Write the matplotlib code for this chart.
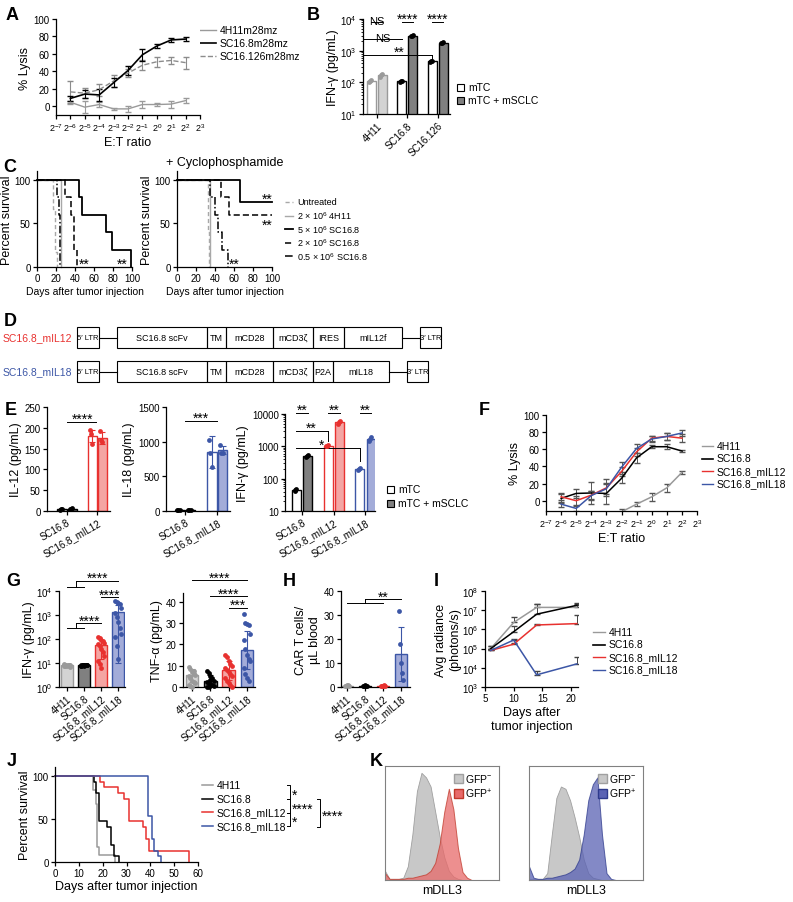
import matplotlib
matplotlib.use("Agg")
import matplotlib.pyplot as plt
from matplotlib.patches import Rectangle
from matplotlib.ticker import NullFormatter

W, H = 793, 903

plt.rcParams["font.family"] = ["Liberation Sans", "DejaVu Sans"]
plt.rcParams["mathtext.fontset"] = "custom"
plt.rcParams["mathtext.rm"] = "Liberation Sans"
plt.rcParams["mathtext.it"] = "Liberation Sans:italic"
plt.rcParams["mathtext.bf"] = "Liberation Sans:bold"
plt.rcParams["font.size"] = 7
plt.rcParams["axes.linewidth"] = 0.9

GREY = "#9a9a9a"
RED = "#e8312f"
RED_FILL = "#f4a5a3"
BLUE = "#3c56a6"
BLUE_FILL = "#a3acd9"

# ---- A: in vitro lysis, log2 E:T ratio ----
A_EXP = [-6, -5, -4, -3, -2, -1, 0, 1, 2]
A_4H11 = [4.6, -1, 2, -3, -3, 2, 2, 2.5, 6.5]
A_4H11_SD = [2, 7, 3, 1, 3, 4, 2, 4, 3]
A_SC168 = [9, 14, 13, 27, 41, 59, 69, 76, 77]
A_SC168_SD = [3, 5, 7, 5, 5, 7, 2, 2, 2]
A_SC16126 = [16.5, 15, 19, 29, 38, 47, 51, 52.5, 50]
A_SC16126_SD = [13, 6, 7, 7, 5, 6, 6, 4, 7]

# ---- B: IFN-g ----
B_GROUPS = ["4H11", "SC16.8", "SC16.126"]
B_MTC = [112, 108, 460]
B_MSCLC = [165, 3000, 1800]
B_MTC_PTS = [[105, 112, 118], [104, 108, 112], [440, 460, 480]]
B_MSCLC_PTS = [[150, 165, 178], [2850, 3000, 3150], [1700, 1800, 1900]]

# ---- C: survival ----
C_LABELS = ["Untreated", "2 × 10$^6$ 4H11", "5 × 10$^6$ SC16.8",
            "2 × 10$^6$ SC16.8", "0.5 × 10$^6$ SC16.8"]
C1_DAYS = [[0, 17, 19, 21], [0, 25], [0, 44, 47, 73, 79, 99],
           [0, 29, 36, 39, 42], [0, 21, 23, 24]]
C1_SURV = [[100, 67, 17, 0], [100, 0], [100, 80, 60, 40, 20, 0],
           [100, 80, 60, 20, 0], [100, 80, 60, 0]]
C2_DAYS = [[0, 33, 34], [0, 34.5], [0, 66, 100], [0, 46, 55, 100],
           [0, 35, 40, 43, 47, 54]]
C2_SURV = [[100, 40, 0], [100, 0], [100, 75, 75], [100, 80, 60, 60],
           [100, 80, 60, 40, 20, 0]]

# ---- D: constructs ----
D_NAMES = ["SC16.8_mIL12", "SC16.8_mIL18"]
D_SEGMENTS = [["SC16.8 scFv", "TM", "mCD28", "mCD3ζ", "IRES", "mIL12f"],
              ["SC16.8 scFv", "TM", "mCD28", "mCD3ζ", "P2A", "mIL18"]]
D_LENGTHS = [[90, 19, 47, 40, 31, 58], [90, 19, 47, 40, 20, 56]]

# ---- E: cytokines ----
E12_GROUPS = ["SC16.8", "SC16.8_mIL12"]
E12_MTC = [5, 180]
E12_MTC_SD = [1, 15]
E12_MTC_PTS = [[3, 5, 6], [195, 185, 160]]
E12_MSCLC = [5, 175]
E12_MSCLC_SD = [1, 15]
E12_MSCLC_PTS = [[4, 6, 7], [192, 170, 165]]

E18_GROUPS = ["SC16.8", "SC16.8_mIL18"]
E18_MTC = [12, 850]
E18_MTC_SD = [2, 230]
E18_MTC_PTS = [[10, 12, 14], [1020, 830, 640]]
E18_MSCLC = [12, 875]
E18_MSCLC_SD = [2, 60]
E18_MSCLC_PTS = [[10, 12, 14], [950, 840, 840]]

EIFN_GROUPS = ["SC16.8", "SC16.8_mIL12", "SC16.8_mIL18"]
EIFN_MTC = [45, 1050, 200]
EIFN_MTC_PTS = [[42, 45, 48], [1000, 1050, 1100], [185, 200, 215]]
EIFN_MSCLC = [500, 5500, 1700]
EIFN_MSCLC_PTS = [[470, 500, 530], [5000, 5500, 6000], [1500, 1700, 1900]]

# ---- F: lysis with armored CARs ----
F_EXP = [-6, -5, -4, -3, -2, -1, 0, 1, 2]
F_4H11 = [-40, -38, -35, -28, -13, -4, 4.5, 15, 33]
F_4H11_SD = [3, 3, 3, 3, 3, 2, 5, 5, 2]
F_SC168 = [2.7, 8.5, 9, 8.5, 26, 50, 63, 63, 58]
F_SC168_SD = [5, 5, 13, 12, 5, 6, 2, 3, 1]
F_MIL12 = [4.6, 0, 6.5, 15, 34, 57, 73, 75, 73]
F_MIL12_SD = [4, 5, 5, 10, 5, 5, 3, 4, 5]
F_MIL18 = [-4, -9, 6, 14, 39, 61, 72, 75, 79]
F_MIL18_SD = [3, 3, 5, 6, 6, 5, 3, 4, 3]

# ---- G / H: serum cytokines and CAR T counts ----
G_GROUPS = ["4H11", "SC16.8", "SC16.8_mIL12", "SC16.8_mIL18"]
G_IFN_MEAN = [8, 8, 55, 1300]
G_IFN_SD = [0.5, 0.4, 40, 1290]
G_IFN_PTS = [[8, 7.5, 8.5, 8, 7, 9, 8, 7.8, 8.2, 8.6, 7.4, 8],
             [8, 8.3, 7.7, 8, 8.5, 7.5, 8.1, 7.9, 8.2, 8, 7.6, 8.4],
             [120, 110, 95, 85, 70, 60, 50, 40, 30, 20, 12, 9, 6],
             [4000, 3500, 3200, 2800, 2000, 1200, 800, 500, 300, 160, 120, 50, 15]]
G_TNF_MEAN = [5.5, 3, 7.8, 17.3]
G_TNF_SD = [3, 2.5, 4.5, 9]
G_TNF_PTS = [[9.5, 8.5, 7, 6, 5.5, 5, 4, 3, 2.5, 2, 1, 0.5, 0, 7.5],
             [7.5, 6.5, 5, 4, 3, 2.5, 2, 1.5, 1, 0.5, 0, 0, 3.5],
             [15, 14, 12, 11, 10, 9, 8, 7, 6, 5, 4, 3, 2, 1, 0],
             [34, 30, 29.5, 29, 25, 22, 18, 15, 13, 12, 9, 6, 4, 3]]
H_MEAN = [0.6, 0.5, 0.5, 13.7]
H_SD = [0.3, 0.1, 0.1, 11.3]
H_PTS = [[0.3, 0.5, 0.8, 1.0, 0.6], [0.4, 0.5, 0.7, 0.6, 0.5],
         [0.5, 0.6, 0.4, 0.7, 0.5], [31.5, 18, 10, 6, 3]]

# ---- I: bioluminescence ----
I_DAYS = [6, 10, 14, 21]
I_4H11 = [1.0e5, 2.3e6, 1.4e7, 1.4e7]
I_4H11_UP = [1.4e5, 4.3e6, 2.0e7, 2.2e7]
I_SC168 = [1.0e5, 7.6e5, 6.2e6, 1.8e7]
I_SC168_UP = [1.4e5, 1.5e6, 2.2e7, 2.5e7]
I_MIL12 = [8.0e4, 1.7e5, 1.7e6, 2.0e6]
I_MIL12_UP = [9.0e4, 2.0e5, 2.0e6, 5.5e6]
I_MIL18 = [8.0e4, 2.8e5, 4.3e3, 1.6e4]
I_MIL18_UP = [9.0e4, 3.0e5, 7.0e3, 3.5e4]

# ---- J: survival ----
J_DAYS = [[0, 16, 17, 17.8, 18.5, 25],
          [0, 16.5, 17.4, 18.4, 22, 23.7, 24.8, 27],
          [0, 18.8, 20.5, 26.5, 29, 31, 37, 38, 39.3, 56.2],
          [0, 39, 40.9, 41.6, 43.2, 44.6]]
J_SURV = [[100, 83, 67, 17, 8, 0],
          [100, 93, 80, 47, 40, 20, 7, 0],
          [100, 93, 87, 80, 73, 47, 40, 27, 13, 0],
          [100, 53, 27, 13, 7, 0]]

# ---- K: flow histograms (% of mode, sampled across the axis) ----
K_BINS = list(range(0, 101, 4))
K_GREY_1 = [8, 1, 1, 1, 2, 12, 40, 78, 94, 90, 82, 60, 38, 20, 8, 3, 1,
            0, 0, 0, 0, 0, 0, 0, 0, 0]
K_RED = [6, 1, 1, 1, 1, 2, 2, 3, 4, 5, 8, 15, 32, 60, 80, 62, 28, 7, 2,
         0, 0, 0, 0, 0, 0, 0]
K_GREY_2 = [1, 1, 1, 1, 6, 40, 72, 82, 80, 70, 55, 38, 18, 6, 2, 1, 0,
            0, 0, 0, 0, 0, 0, 0, 0, 0]
K_BLUE = [12, 2, 1, 1, 2, 2, 3, 4, 5, 7, 10, 18, 40, 70, 84, 90, 40, 6,
          1, 0, 0, 0, 0, 0, 0, 0]

TICK = 7
LABEL = 9
STAR = 10
LEG = 7.5


def ax_at(fig, left, top, right, bottom):
    return fig.add_axes([left / W, 1 - bottom / H, (right - left) / W,
                         (bottom - top) / H])


def prism(ax, size=TICK):
    ax.spines["top"].set_visible(False)
    ax.spines["right"].set_visible(False)
    ax.tick_params(length=3, width=0.9, pad=1.5, labelsize=size)
    ax.tick_params(which="minor", length=1.8, width=0.6)


def star(ax, x, y, text, size=STAR):
    ax.annotate(text, (x, y), xytext=(0, -3), textcoords="offset points",
                ha="center", va="bottom", fontsize=size, annotation_clip=False)


def hline(ax, x1, x2, y, lw=0.7):
    ax.plot([x1, x2], [y, y], color="k", lw=lw, clip_on=False)


def line_legend(ov, x, y, dy, labels, styles, size=LEG, length=12):
    for i, (lab, st) in enumerate(zip(labels, styles)):
        yy = y + i * dy
        ov.plot([x, x + length], [yy, yy], **st)
        ov.text(x + length + 4, yy, lab, va="center", fontsize=size)


def box_legend(ov, x, y, dy, labels, faces, size=LEG):
    for i, (lab, fc) in enumerate(zip(labels, faces)):
        yy = y + i * dy
        ov.add_patch(Rectangle((x, yy - 3.5), 7, 7, facecolor=fc,
                               edgecolor="k", lw=0.8))
        ov.text(x + 11, yy, lab, va="center", fontsize=size)


def per_bar(v, n):
    return v if isinstance(v, list) else [v] * n


def bars(ax, xs, heights, yerr, pts, face, edge, dot, width=0.3, spread=0.08):
    n = len(xs)
    faces, edges, dots = per_bar(face, n), per_bar(edge, n), per_bar(dot, n)
    for i in range(n):
        ax.bar(xs[i], heights[i], width=width, color=faces[i],
               edgecolor=edges[i], lw=1, zorder=2)
        if yerr is not None:
            if isinstance(yerr[0], list):
                err = [[yerr[0][i]], [yerr[1][i]]]
            else:
                err = [yerr[i]]
            ax.errorbar([xs[i]], [heights[i]], yerr=err, fmt="none",
                        ecolor=edges[i], elinewidth=0.8, capsize=2,
                        capthick=0.8, zorder=3)
        p = pts[i]
        offs = [((j % 5) - 2) * spread for j in range(len(p))]
        ax.scatter([xs[i] + o for o in offs], p, s=12, color=dots[i],
                   zorder=4, linewidths=0, clip_on=False)


def rot_labels(ax, labels, angle, size=TICK):
    ax.set_xticklabels(labels, rotation=angle, ha="right",
                       rotation_mode="anchor", fontsize=size)


def log2_ticks(ax):
    ax.set_xticks(range(-7, 4))
    ax.set_xticklabels([f"$2^{{{e}}}$" for e in range(-7, 4)], fontsize=6.5)


def panel_label(fig, x, y, s):
    fig.text(x / W, 1 - y / H, s, fontsize=13, fontweight="bold",
             ha="left", va="center")


fig = plt.figure(figsize=(W / 100, H / 100), dpi=100)
ov = fig.add_axes([0, 0, 1, 1])
ov.set_xlim(0, W)
ov.set_ylim(H, 0)
ov.axis("off")

# A
ax = ax_at(fig, 56, 20, 200, 116)
prism(ax)
ax.errorbar(A_EXP, A_4H11, yerr=A_4H11_SD, color=GREY, lw=1, capsize=2,
            elinewidth=0.8)
ax.errorbar(A_EXP, A_SC16126, yerr=A_SC16126_SD, color="#8c8c8c", lw=1,
            ls="--", capsize=2, elinewidth=0.8)
ax.errorbar(A_EXP, A_SC168, yerr=A_SC168_SD, color="k", lw=1.2, capsize=2,
            elinewidth=0.8)
ax.set_xlim(-7, 3)
ax.set_ylim(-10, 100)
log2_ticks(ax)
ax.set_yticks(range(0, 101, 20))
ax.set_ylabel("% Lysis", fontsize=LABEL, labelpad=2)
ax.set_xlabel("E:T ratio", fontsize=LABEL, labelpad=2)
line_legend(ov, 200, 31, 13, ["4H11m28mz", "SC16.8m28mz", "SC16.126m28mz"],
            [dict(color=GREY, lw=1), dict(color="k", lw=1.2),
             dict(color="#8c8c8c", lw=1, ls="--")], length=16)

# B
ax = ax_at(fig, 363, 20, 450, 115)
prism(ax)
ax.set_yscale("log")
ax.set_ylim(10, 1e4)
ax.set_xlim(-0.45, 2.4)
b_edges = [GREY, "k", "k"]
b_fills = ["#d3d3d3", "#808080", "#808080"]
for i in range(len(B_GROUPS)):
    bars(ax, [i - 0.18], [B_MTC[i]], None, [B_MTC_PTS[i]], "white",
         b_edges[i], b_edges[i], spread=0.03)
    bars(ax, [i + 0.18], [B_MSCLC[i]], None, [B_MSCLC_PTS[i]], b_fills[i],
         b_edges[i], b_edges[i], spread=0.03)
ax.set_xticks(range(len(B_GROUPS)))
rot_labels(ax, B_GROUPS, 45)
ax.set_ylabel("IFN-γ (pg/mL)", fontsize=LABEL, labelpad=1)
hline(ax, -0.18, 0.18, 8000)
star(ax, 0, 8000, "NS", 8)
for i in (1, 2):
    hline(ax, i - 0.18, i + 0.18, 8000)
    star(ax, i, 8000, "****")
hline(ax, -0.45, 0.82, 2300)
star(ax, 0.2, 2300, "NS", 8)
hline(ax, -0.45, 1.82, 750)
ax.plot([1.82, 1.82], [750, 560], color="k", lw=0.7)
star(ax, 0.75, 750, "**")
box_legend(ov, 457, 88, 13, ["mTC", "mTC + mSCLC"], ["white", "#808080"])

# C
c_styles = [dict(color="#a8a8a8", lw=1, ls=(0, (3, 2))),
            dict(color="#a8a8a8", lw=1),
            dict(color="k", lw=1.3),
            dict(color="k", lw=1.1, ls=(0, (4, 2))),
            dict(color="k", lw=1.1, ls=(0, (5, 1.5, 1, 1.5)))]
for (l, r, days, surv) in [(37, 132, C1_DAYS, C1_SURV),
                           (177, 272, C2_DAYS, C2_SURV)]:
    ax = ax_at(fig, l, 172, r, 268)
    prism(ax, size=7)
    for d, s, st in zip(days, surv, c_styles):
        ax.step(d, s, where="post", clip_on=False, **st)
    ax.set_xlim(0, 100)
    ax.set_ylim(0, 110)
    ax.set_xticks(range(0, 101, 20))
    ax.set_yticks([0, 50, 100])
    ax.set_ylabel("Percent survival", fontsize=9, labelpad=1)
    ax.set_xlabel("Days after tumor injection", fontsize=7.5, labelpad=2)
    if l == 37:
        star(ax, 50, 0, "**")
        star(ax, 90, 0, "**")
    else:
        star(ax, 95, 75, "**")
        star(ax, 95, 45, "**")
        star(ax, 60, 0, "**")
        ax.set_title("+ Cyclophosphamide", fontsize=9, pad=4)
line_legend(ov, 285, 203, 13.5, C_LABELS, c_styles, size=6.5, length=8)

# D
d_colors = [RED, BLUE]
for row, (name, segs, lens) in enumerate(zip(D_NAMES, D_SEGMENTS, D_LENGTHS)):
    y = 328 + row * 34
    h = 21
    ym = y + h / 2
    ov.add_patch(Rectangle((77, y), 22, h, fill=False, lw=0.8))
    ov.text(88, ym, "5′ LTR", ha="center", va="center", fontsize=5.5)
    ov.plot([99, 117], [ym, ym], color="k", lw=0.8)
    x = 117
    for s, L in zip(segs, lens):
        ov.add_patch(Rectangle((x, y), L, h, fill=False, lw=0.8))
        ov.text(x + L / 2, ym, s, ha="center", va="center", fontsize=6.5)
        x += L
    ov.plot([x, x + 18], [ym, ym], color="k", lw=0.8)
    ov.add_patch(Rectangle((x + 18, y), 21, h, fill=False, lw=0.8))
    ov.text(x + 28.5, ym, "3′ LTR", ha="center", va="center", fontsize=5.5)
    ov.text(72, ym, name, ha="right", va="center", fontsize=7.5,
            color=d_colors[row])

# E - IL-12
ax = ax_at(fig, 47, 408, 110, 512)
prism(ax)
bars(ax, [-0.17, 0.83], E12_MTC, E12_MTC_SD, E12_MTC_PTS, "white",
     ["k", RED], ["k", RED], spread=0.04)
bars(ax, [0.17, 1.17], E12_MSCLC, E12_MSCLC_SD, E12_MSCLC_PTS,
     ["#808080", RED_FILL], ["k", RED], ["k", RED], spread=0.04)
ax.set_xlim(-0.67, 1.43)
ax.set_ylim(0, 250)
ax.set_yticks(range(0, 251, 50))
ax.set_xticks([0, 1])
rot_labels(ax, E12_GROUPS, 30)
ax.set_ylabel("IL-12 (pg/mL)", fontsize=LABEL, labelpad=2)
hline(ax, 0, 0.95, 215)
star(ax, 0.5, 215, "****")

# E - IL-18
ax = ax_at(fig, 166, 408, 230, 512)
prism(ax)
bars(ax, [-0.17, 0.83], E18_MTC, E18_MTC_SD, E18_MTC_PTS, "white",
     ["k", BLUE], ["k", BLUE], spread=0.04)
bars(ax, [0.17, 1.17], E18_MSCLC, E18_MSCLC_SD, E18_MSCLC_PTS,
     ["#808080", BLUE_FILL], ["k", BLUE], ["k", BLUE], spread=0.04)
ax.set_xlim(-0.6, 1.4)
ax.set_ylim(0, 1500)
ax.set_yticks([0, 500, 1000, 1500])
ax.set_xticks([0, 1])
rot_labels(ax, E18_GROUPS, 30)
ax.set_ylabel("IL-18 (pg/mL)", fontsize=LABEL, labelpad=2)
hline(ax, 0, 1.0, 1300)
star(ax, 0.5, 1300, "***")

# E - IFN-g
ax = ax_at(fig, 285, 415, 375, 512)
prism(ax)
ax.set_yscale("log")
e_line = ["k", RED, BLUE]
e_fill = ["#808080", RED_FILL, BLUE_FILL]
for i in range(3):
    bars(ax, [i - 0.18], [EIFN_MTC[i]], None, [EIFN_MTC_PTS[i]], "white",
         e_line[i], e_line[i], width=0.28, spread=0.03)
    bars(ax, [i + 0.18], [EIFN_MSCLC[i]], None, [EIFN_MSCLC_PTS[i]],
         e_fill[i], e_line[i], e_line[i], width=0.28, spread=0.03)
    hline(ax, i - 0.18, i + 0.18, 11000)
    star(ax, i, 11000, "**")
ax.set_ylim(10, 10000)
ax.set_yticks([10, 100, 1000, 10000])
ax.set_yticklabels(["10", "100", "1000", "10000"])
ax.yaxis.set_minor_formatter(NullFormatter())
ax.set_xlim(-0.54, 2.3)
ax.set_xticks([0, 1, 2])
rot_labels(ax, EIFN_GROUPS, 30)
ax.set_ylabel("IFN-γ (pg/mL)", fontsize=LABEL, labelpad=2)
hline(ax, -0.18, 0.82, 3000)
ax.plot([0.82, 0.82], [3000, 1500], color="k", lw=0.7)
star(ax, 0.3, 3000, "**")
hline(ax, -0.18, 1.82, 900)
ax.plot([1.82, 1.82], [900, 350], color="k", lw=0.7)
star(ax, 0.6, 900, "*")
box_legend(ov, 387, 490, 14, ["mTC", "mTC + mSCLC"], ["white", "#808080"])

# F
ax = ax_at(fig, 546, 416, 697, 512)
prism(ax)
f_series = [(F_4H11, F_4H11_SD, GREY), (F_SC168, F_SC168_SD, "k"),
            (F_MIL12, F_MIL12_SD, RED), (F_MIL18, F_MIL18_SD, BLUE)]
for vals, sd, col in f_series:
    ax.errorbar(F_EXP, vals, yerr=sd, color=col, lw=1.1, capsize=2,
                elinewidth=0.7, ecolor="#555555")
ax.set_xlim(-7, 3)
ax.set_ylim(-12, 100)
log2_ticks(ax)
ax.set_yticks(range(0, 101, 20))
ax.set_ylabel("% Lysis", fontsize=LABEL, labelpad=2)
ax.set_xlabel("E:T ratio", fontsize=LABEL, labelpad=2)
line_legend(ov, 702, 447, 12.5, ["4H11", "SC16.8", "SC16.8_mIL12",
                                  "SC16.8_mIL18"],
            [dict(color=GREY, lw=1), dict(color="k", lw=1.2),
             dict(color=RED, lw=1), dict(color=BLUE, lw=1)], length=11)

# G
g_face = ["#d3d3d3", "#808080", RED_FILL, BLUE_FILL]
g_edge = [GREY, "k", RED, BLUE]
g_dot = [GREY, "k", RED, BLUE]
ax = ax_at(fig, 59, 592, 125, 688)
prism(ax)
ax.set_yscale("log")
lo = [min(s, m - 1) for m, s in zip(G_IFN_MEAN, G_IFN_SD)]
bars(ax, [0, 1, 2, 3], G_IFN_MEAN, [lo, G_IFN_SD], G_IFN_PTS,
     g_face, g_edge, g_dot, width=0.7, spread=0.09)
ax.set_ylim(1, 1e4)
ax.set_yticks([1, 10, 100, 1000, 10000])
ax.set_xlim(-0.47, 3.4)
ax.set_xticks(range(4))
rot_labels(ax, G_GROUPS, 40)
ax.set_ylabel("IFN-γ (pg/mL)", fontsize=LABEL, labelpad=1)
hline(ax, 0, 1, 1.4e4)
hline(ax, 0.5, 3, 2.6e4)
ax.plot([0.5, 0.5], [1.4e4, 2.6e4], color="k", lw=0.7, clip_on=False)
star(ax, 1.8, 2.6e4, "****")
hline(ax, 2, 3, 5500)
star(ax, 2.5, 5500, "****")
hline(ax, 0, 1, 300)
hline(ax, 0.5, 2, 450)
ax.plot([0.5, 0.5], [300, 450], color="k", lw=0.7)
star(ax, 1.3, 450, "****")

ax = ax_at(fig, 183, 594, 255, 688)
prism(ax)
bars(ax, [0, 1, 2, 3], G_TNF_MEAN, G_TNF_SD, G_TNF_PTS,
     g_face, g_edge, g_dot, width=0.7, spread=0.09)
ax.set_ylim(0, 44)
ax.set_yticks(range(0, 41, 10))
ax.set_xlim(-0.49, 3.44)
ax.set_xticks(range(4))
rot_labels(ax, G_GROUPS, 40)
ax.set_ylabel("TNF-α (pg/mL)", fontsize=LABEL, labelpad=2)
hline(ax, 0, 3, 50)
star(ax, 1.5, 50, "****")
hline(ax, 1, 3, 42.5)
star(ax, 2, 42.5, "****")
hline(ax, 2, 3, 37)
star(ax, 2.5, 37, "***")

# H
ax = ax_at(fig, 341, 592, 410, 688)
prism(ax)
bars(ax, [0, 1, 2, 3], H_MEAN, H_SD, H_PTS,
     g_face, g_edge, g_dot, width=0.7, spread=0.06)
ax.set_ylim(0, 40)
ax.set_yticks(range(0, 41, 10))
ax.set_xlim(-0.34, 3.5)
ax.set_xticks(range(4))
rot_labels(ax, G_GROUPS, 40)
ax.set_ylabel("CAR T cells/\nµL blood", fontsize=LABEL, labelpad=2)
hline(ax, 0, 2, 35)
hline(ax, 1, 3, 36.5)
ax.plot([1, 1], [35, 36.5], color="k", lw=0.7)
star(ax, 2, 36.5, "**")

# I
ax = ax_at(fig, 485, 592, 578, 688)
prism(ax)
ax.set_yscale("log")
i_series = [(I_4H11, I_4H11_UP, GREY), (I_SC168, I_SC168_UP, "k"),
            (I_MIL12, I_MIL12_UP, RED), (I_MIL18, I_MIL18_UP, BLUE)]
for vals, up, col in i_series:
    err = [[0] * len(vals), [u - v for u, v in zip(up, vals)]]
    ax.errorbar(I_DAYS, vals, yerr=err, color=col, lw=1.1, capsize=2.5,
                elinewidth=0.7, ecolor="#444444")
ax.set_ylim(1e3, 1e8)
ax.set_yticks([1e3, 1e4, 1e5, 1e6, 1e7, 1e8])
ax.set_xlim(5, 21.2)
ax.set_xticks([5, 10, 15, 20])
ax.set_ylabel("Avg radiance\n(photons/s)", fontsize=LABEL, labelpad=1)
ax.set_xlabel("Days after\ntumor injection", fontsize=LABEL, labelpad=2)
line_legend(ov, 593, 633, 12.5, ["4H11", "SC16.8", "SC16.8_mIL12",
                                  "SC16.8_mIL18"],
            [dict(color=GREY, lw=1), dict(color="k", lw=1.2),
             dict(color=RED, lw=1), dict(color=BLUE, lw=1)], length=12)

# J
ax = ax_at(fig, 55, 768, 198, 863)
prism(ax)
j_cols = [GREY, "k", RED, BLUE]
for d, s, c in zip(J_DAYS, J_SURV, j_cols):
    ax.step(d, s, where="post", color=c, lw=1.1, clip_on=False)
ax.set_xlim(0, 60)
ax.set_ylim(0, 110)
ax.set_xticks(range(0, 61, 10))
ax.set_yticks([0, 50, 100])
ax.set_ylabel("Percent survival", fontsize=LABEL, labelpad=1)
ax.set_xlabel("Days after tumor injection", fontsize=LABEL, labelpad=1)
line_legend(ov, 202, 786, 13.7, G_GROUPS,
            [dict(color=c, lw=1.1) for c in j_cols], length=11)
for y1, y2, txt in [(786, 800, "*"), (800, 814, "****"), (814, 827, "*")]:
    ov.plot([287, 290, 290, 287], [y1, y1, y2, y2], color="k", lw=0.7)
    ov.text(292, (y1 + y2) / 2 + 2.5, txt, va="center", fontsize=STAR)
ov.plot([317, 320, 320, 317], [800, 800, 828, 828], color="k", lw=0.7)
ov.text(322, 816.5, "****", va="center", fontsize=STAR)

# K
k_sets = [(385, K_GREY_1, K_RED, "#e86a6a", "#c0392b"),
          (529, K_GREY_2, K_BLUE, "#5a62b4", "#2e3a8c")]
for left, grey, col, face, edge in k_sets:
    ax = ax_at(fig, left, 767, left + 114, 881)
    ax.fill_between(K_BINS, grey, color="#c8c8c8", edgecolor="#a0a0a0",
                    lw=0.6)
    ax.fill_between(K_BINS, col, color=face, alpha=0.75, edgecolor=edge,
                    lw=0.7)
    ax.set_xlim(0, 100)
    ax.set_ylim(0, 100)
    ax.set_xticks([])
    ax.set_yticks([])
    for sp in ax.spines.values():
        sp.set_color("#808080")
        sp.set_linewidth(0.8)
    ax.set_xlabel("mDLL3", fontsize=LABEL, labelpad=3)
    ax.legend(handles=[Rectangle((0, 0), 1, 1, fc="#c8c8c8", ec="#a0a0a0"),
                       Rectangle((0, 0), 1, 1, fc=face, ec=edge)],
              labels=["GFP$^{-}$", "GFP$^{+}$"], loc="upper right",
              frameon=False, fontsize=7.5, handlelength=0.9, handleheight=0.9,
              handletextpad=0.2, labelspacing=0.2, borderaxespad=0.2)

for s, x, y in [("A", 6, 15), ("B", 307, 15), ("C", 3, 167), ("D", 4, 322),
                ("E", 5, 411), ("F", 479, 411), ("G", 6, 581), ("H", 283, 581),
                ("I", 434, 581), ("J", 7, 762), ("K", 370, 762)]:
    panel_label(fig, x, y, s)

fig.savefig("out.png", dpi=100)
